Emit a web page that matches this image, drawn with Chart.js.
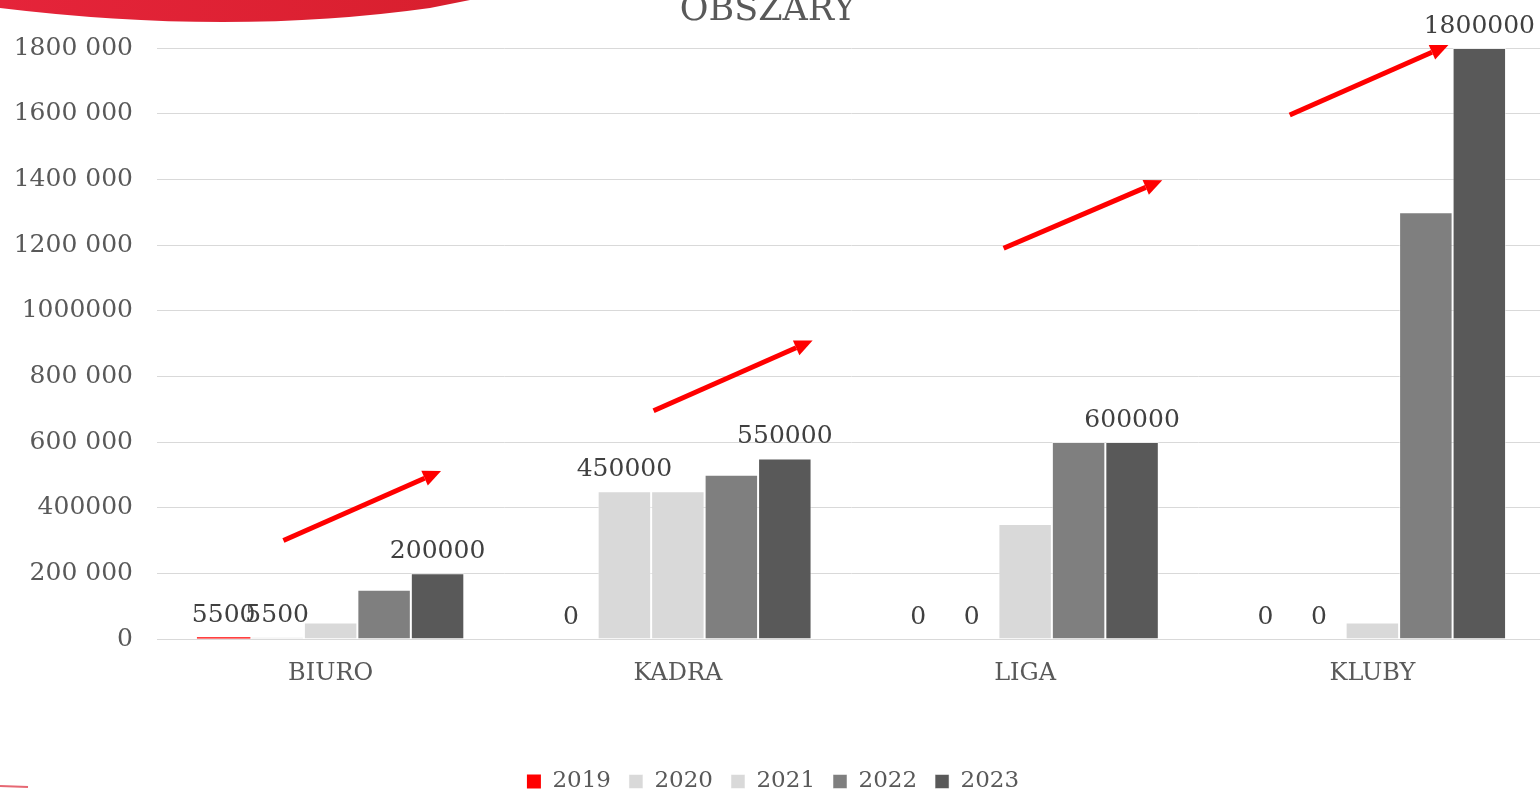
<!DOCTYPE html>
<html>
<head>
<meta charset="utf-8">
<script src="https://cdn.jsdelivr.net/npm/chart.js@4.4.1/dist/chart.umd.min.js"></script>
<style>
  html, body { margin: 0; padding: 0; background: #fff; overflow: hidden; }
  #wrap { width: 1546px; height: 792px; position: relative; }
</style>
</head>
<body>
<div id="wrap"><canvas id="chart"></canvas></div>
<script>
const categories = ['BIURO', 'KADRA', 'LIGA', 'KLUBY']
const years = ['2019', '2020', '2021', '2022', '2023']
const values2019 = [5500, 0, 0, 0]
const values2020 = [5500, 450000, 0, 0]
const values2021 = [50000, 450000, 350000, 50000]
const values2022 = [150000, 500000, 600000, 1300000]
const values2023 = [200000, 550000, 600000, 1800000]
const colors = ['#ff0000', '#d9d9d9', '#d9d9d9', '#7f7f7f', '#595959']
const showLabels = [true, true, false, false, true]
const yTickLabels = ['0', '200 000', '400000', '600 000', '800 000', '1000000',
  '1200 000', '1400 000', '1600 000', '1800 000']
const title = 'OBSZARY'

// arrows in chart coordinates: [category index, value]
const arrowFrom = [[-0.136, 300000], [0.93, 695000], [1.938, 1190000], [2.762, 1596000]]
const arrowTo = [[0.318, 512000], [1.388, 909000], [2.395, 1397000], [3.219, 1809000]]

const FONT = "'DejaVu Serif', serif"

const decor = {
  id: 'decor',
  beforeDraw(chart) {
    const ctx = chart.ctx
    ctx.save()
    // red swoosh top left
    const g = ctx.createLinearGradient(0, 0, 470, 0)
    g.addColorStop(0, '#e5243a')
    g.addColorStop(1, '#d81f2e')
    ctx.fillStyle = g
    ctx.beginPath()
    ctx.moveTo(0, 0)
    ctx.lineTo(0, 8)
    ctx.quadraticCurveTo(230, 36, 430, 8)
    ctx.lineTo(470, 0)
    ctx.closePath()
    ctx.fill()
    ctx.strokeStyle = 'rgba(220,40,55,0.7)'
    ctx.lineWidth = 2
    ctx.beginPath()
    ctx.moveTo(0, 786)
    ctx.lineTo(28, 787)
    ctx.stroke()
    // title
    ctx.fillStyle = '#595959'
    ctx.font = '35px ' + FONT
    ctx.textAlign = 'center'
    ctx.textBaseline = 'alphabetic'
    ctx.fillText(title, 768, 20)
    ctx.restore()
  },
  afterDatasetsDraw(chart) {
    const ctx = chart.ctx
    const xs = chart.scales.x, ys = chart.scales.y
    ctx.save()
    // data labels
    ctx.font = '25px ' + FONT
    ctx.fillStyle = '#404040'
    ctx.textAlign = 'center'
    ctx.textBaseline = 'alphabetic'
    chart.data.datasets.forEach((ds, i) => {
      if (!showLabels[i]) return
      chart.getDatasetMeta(i).data.forEach((bar, j) => {
        ctx.fillText(String(ds.data[j]), bar.x, bar.y - 15)
      })
    })
    // arrows
    ctx.strokeStyle = '#ff0000'
    ctx.fillStyle = '#ff0000'
    ctx.lineWidth = 5
    arrowFrom.forEach((a, k) => {
      const x1 = xs.getPixelForValue(a[0]), y1 = ys.getPixelForValue(a[1])
      const x2 = xs.getPixelForValue(arrowTo[k][0]), y2 = ys.getPixelForValue(arrowTo[k][1])
      const ang = Math.atan2(y2 - y1, x2 - x1)
      const head = 18
      const bx = x2 - head * Math.cos(ang), by = y2 - head * Math.sin(ang)
      ctx.beginPath()
      ctx.moveTo(x1, y1)
      ctx.lineTo(bx, by)
      ctx.stroke()
      ctx.beginPath()
      ctx.moveTo(x2, y2)
      ctx.lineTo(bx + 8 * Math.sin(ang), by - 8 * Math.cos(ang))
      ctx.lineTo(bx - 8 * Math.sin(ang), by + 8 * Math.cos(ang))
      ctx.closePath()
      ctx.fill()
    })
    ctx.restore()
  }
}

const series = [values2019, values2020, values2021, values2022, values2023]

window.addEventListener('load', () => {
  const ctx = document.querySelector('#chart').getContext('2d')
  new Chart(ctx, {
    type: 'bar',
    data: {
      labels: categories,
      datasets: series.map((v, i) => ({
        label: years[i],
        data: v,
        backgroundColor: colors[i],
        borderColor: 'rgba(255,255,255,0.5)',
        borderWidth: i === 0 ? 0 : 1,
        categoryPercentage: 0.77,
        barPercentage: 1
      }))
    },
    options: {
      responsive: true,
      maintainAspectRatio: false,
      animation: false,
      layout: { padding: { top: 48, right: 0, left: 0, bottom: -11 } },
      plugins: {
        title: { display: false },
        tooltip: { enabled: false },
        legend: {
          position: 'bottom',
          labels: {
            boxWidth: 14,
            boxHeight: 14,
            padding: 18,
            color: '#595959',
            font: { family: FONT, size: 23 }
          }
        }
      },
      scales: {
        x: {
          grid: { display: false },
          border: { color: '#d9d9d9', width: 1 },
          ticks: { color: '#595959', padding: 12, font: { family: FONT, size: 24 } },
          afterFit(s) { s.height = 113 }
        },
        y: {
          min: 0,
          max: 1800000,
          grid: { color: '#d9d9d9', drawTicks: false },
          border: { display: false },
          ticks: {
            stepSize: 200000,
            padding: 24,
            color: '#595959',
            font: { family: FONT, size: 25 },
            callback: (v, i) => yTickLabels[i]
          },
          afterFit(s) { s.width = 157 }
        }
      }
    },
    plugins: [decor]
  })
})
</script>
</body>
</html>
